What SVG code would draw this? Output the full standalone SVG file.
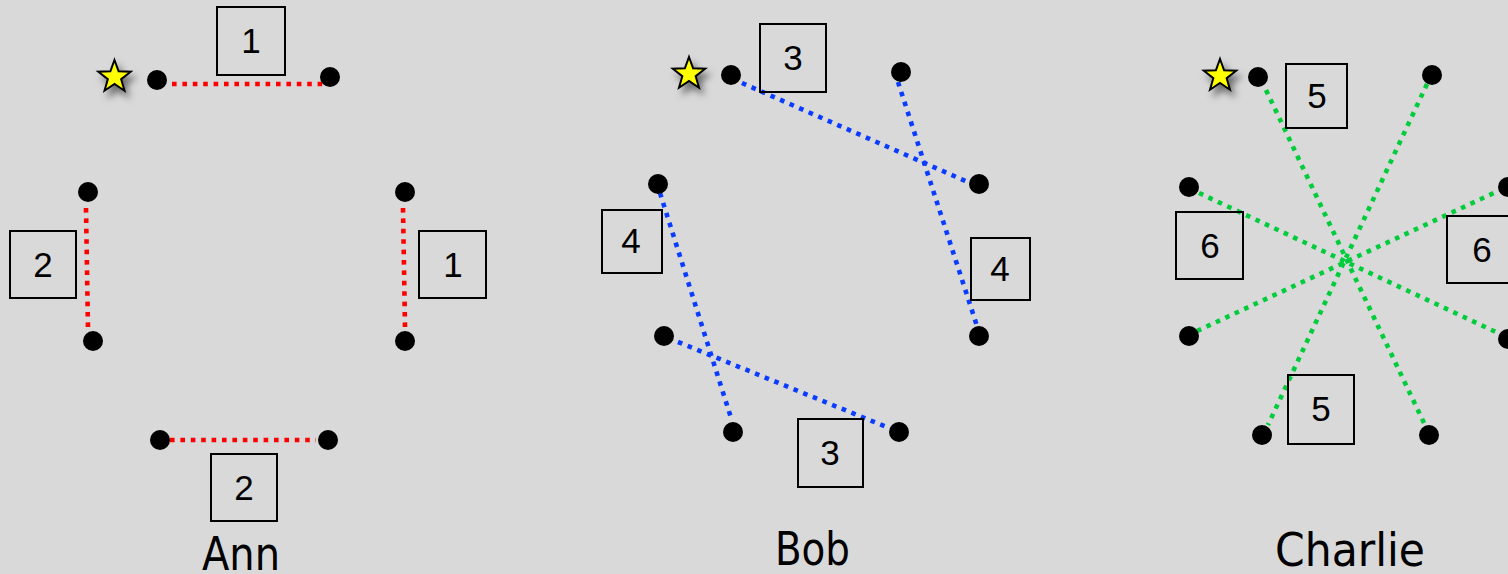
<svg xmlns="http://www.w3.org/2000/svg" width="1508" height="574" viewBox="0 0 1508 574">
<style>
.dot{fill:#000}
.box{fill:none;stroke:#000;stroke-width:2}
.num{font-family:"Liberation Sans",Arial,sans-serif;font-size:35px;fill:#000;text-anchor:middle}
.name{font-family:"DejaVu Sans","Liberation Sans",sans-serif;font-size:46px;fill:#000;text-anchor:middle}
.star{fill:#ffff00;stroke:#000;stroke-width:2;stroke-linejoin:miter}
.ln{fill:none;stroke-width:4.6;stroke-dasharray:4.6 5.8}
.red{stroke:#ff0000}
.blue{stroke:#0a3cff}
.green{stroke:#00cc3c}
</style>
<defs>
<path id="starShape" d="M0,-17 L4.11,-5.66 L16.17,-5.25 L6.66,2.16 L9.99,13.75 L0,7 L-9.99,13.75 L-6.66,2.16 L-16.17,-5.25 L-4.11,-5.66 Z"/>
<filter id="shadow" x="-60%" y="-60%" width="220%" height="220%">
<feDropShadow dx="4" dy="6" stdDeviation="3.5" flood-color="#000" flood-opacity="0.5"/>
</filter>
</defs>
<rect width="1508" height="574" fill="#d9d9d9"/>

<g id="connectors">
<line class="ln red" x1="172" y1="84" x2="327" y2="84"/>
<line class="ln red" x1="86" y1="208" x2="88" y2="330"/>
<line class="ln red" x1="403" y1="208" x2="405" y2="327"/>
<line class="ln red" x1="170" y1="440" x2="316" y2="440"/>
<line class="ln blue" x1="742" y1="83" x2="970" y2="183"/>
<line class="ln blue" x1="898" y1="82" x2="977" y2="326"/>
<line class="ln blue" x1="660" y1="193" x2="732" y2="421"/>
<line class="ln blue" x1="678" y1="342" x2="889" y2="428"/>
<line class="ln green" x1="1266" y1="90" x2="1424" y2="423"/>
<line class="ln green" x1="1427" y1="84" x2="1268" y2="425"/>
<line class="ln green" x1="1199" y1="193" x2="1498" y2="333"/>
<line class="ln green" x1="1197" y1="331" x2="1496" y2="192"/>
</g>

<g id="ann-star"><use href="#starShape" class="star" filter="url(#shadow)" transform="translate(114.5,77)"/></g>
<g id="ann-d1"><circle class="dot" cx="157" cy="80" r="10"/></g>
<g id="ann-d2"><circle class="dot" cx="330" cy="77" r="10"/></g>
<g id="ann-d3"><circle class="dot" cx="88" cy="192" r="10"/></g>
<g id="ann-d4"><circle class="dot" cx="93" cy="341" r="10"/></g>
<g id="ann-d5"><circle class="dot" cx="405" cy="192" r="10"/></g>
<g id="ann-d6"><circle class="dot" cx="405" cy="341" r="10"/></g>
<g id="ann-d7"><circle class="dot" cx="160" cy="440" r="10"/></g>
<g id="ann-d8"><circle class="dot" cx="328" cy="440" r="10"/></g>
<g id="ann-b1"><rect class="box" x="217" y="7" width="68" height="68"/><text class="num" x="251" y="53">1</text></g>
<g id="ann-b2"><rect class="box" x="10" y="231" width="66" height="67"/><text class="num" x="43" y="277">2</text></g>
<g id="ann-b3"><rect class="box" x="419" y="231" width="67" height="67"/><text class="num" x="453" y="277">1</text></g>
<g id="ann-b4"><rect class="box" x="211" y="454" width="66" height="67"/><text class="num" x="244" y="500">2</text></g>
<g id="ann-label"><text class="name" x="241" y="570" textLength="78" lengthAdjust="spacingAndGlyphs">Ann</text></g>

<g id="bob-star"><use href="#starShape" class="star" filter="url(#shadow)" transform="translate(689,74)"/></g>
<g id="bob-d1"><circle class="dot" cx="731" cy="75" r="10"/></g>
<g id="bob-d2"><circle class="dot" cx="901" cy="72" r="10"/></g>
<g id="bob-d3"><circle class="dot" cx="979" cy="184" r="10"/></g>
<g id="bob-d4"><circle class="dot" cx="979" cy="336" r="10"/></g>
<g id="bob-d5"><circle class="dot" cx="899" cy="432" r="10"/></g>
<g id="bob-d6"><circle class="dot" cx="733" cy="432" r="10"/></g>
<g id="bob-d7"><circle class="dot" cx="664" cy="336" r="10"/></g>
<g id="bob-d8"><circle class="dot" cx="658" cy="184" r="10"/></g>
<g id="bob-b1"><rect class="box" x="760" y="24" width="66" height="68"/><text class="num" x="793" y="70">3</text></g>
<g id="bob-b2"><rect class="box" x="971" y="238" width="59" height="62"/><text class="num" x="1000" y="281">4</text></g>
<g id="bob-b3"><rect class="box" x="602" y="210" width="60" height="63"/><text class="num" x="631" y="253">4</text></g>
<g id="bob-b4"><rect class="box" x="798" y="419" width="65" height="68"/><text class="num" x="830" y="465">3</text></g>
<g id="bob-label"><text class="name" x="812.5" y="565" textLength="75" lengthAdjust="spacingAndGlyphs">Bob</text></g>

<g id="charlie-star"><use href="#starShape" class="star" filter="url(#shadow)" transform="translate(1220,76)"/></g>
<g id="charlie-d1"><circle class="dot" cx="1258" cy="77" r="10"/></g>
<g id="charlie-d2"><circle class="dot" cx="1432" cy="75" r="10"/></g>
<g id="charlie-d3"><circle class="dot" cx="1189" cy="187" r="10"/></g>
<g id="charlie-d4"><circle class="dot" cx="1189" cy="336" r="10"/></g>
<g id="charlie-d5"><circle class="dot" cx="1262" cy="435" r="10"/></g>
<g id="charlie-d6"><circle class="dot" cx="1429" cy="435" r="10"/></g>
<g id="charlie-d7"><circle class="dot" cx="1508" cy="187" r="10"/></g>
<g id="charlie-d8"><circle class="dot" cx="1508" cy="339" r="10"/></g>
<g id="charlie-b1"><rect class="box" x="1286" y="64" width="61" height="64"/><text class="num" x="1317" y="108">5</text></g>
<g id="charlie-b2"><rect class="box" x="1176" y="212" width="67" height="67"/><text class="num" x="1210" y="258">6</text></g>
<g id="charlie-b3"><rect class="box" x="1447" y="216" width="67" height="67"/><text class="num" x="1482" y="262">6</text></g>
<g id="charlie-b4"><rect class="box" x="1288" y="375" width="66" height="69"/><text class="num" x="1321" y="421">5</text></g>
<g id="charlie-label"><text class="name" x="1350" y="566" textLength="150" lengthAdjust="spacingAndGlyphs">Charlie</text></g>
</svg>
